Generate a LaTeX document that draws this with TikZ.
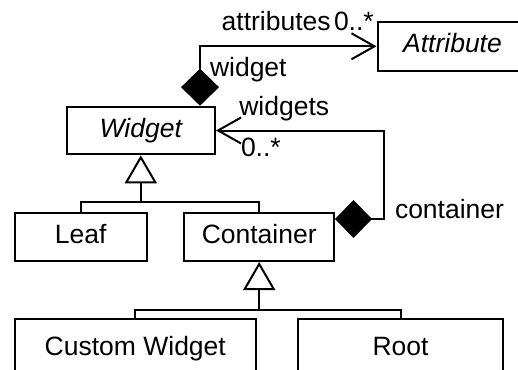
\documentclass[tikz,border=0pt]{standalone}
\usepackage{fontspec}
\setmainfont{Liberation Sans}
\usepackage{tikz}
\usetikzlibrary{arrows.meta}
\newcommand{\umlfont}{\fontsize{13.25pt}{16pt}\selectfont}

\begin{document}
\begin{tikzpicture}[x=0.5pt,y=-0.5pt,line width=1pt,
  cls/.style={draw,inner sep=0pt,font=\umlfont,text height=9.9pt,text depth=3.3pt,minimum height=24.2pt},
  abstractcls/.style={cls,font=\umlfont\itshape},
  lbl/.style={inner sep=0pt,anchor=base west,font=\umlfont},
  gen/.style={-{Triangle[open,length=14pt,width=16pt]}},
  comp/.style={{Diamond[length=18.5pt,width=19pt]}-{Straight Barb[length=11.5pt,width=13pt]}}]
\useasboundingbox (0,0) rectangle (518,369);
\clip (0,0) rectangle (518,369);

% Classes
\node[abstractcls,minimum width=74.2pt,minimum height=23.8pt] (widget) at (140.8,130.5) {Widget};
\node[abstractcls,minimum width=75pt,minimum height=24.6pt] (attr) at (452.5,46.3) {Attribute};
\node[cls,minimum width=66pt] (leaf) at (80.7,236.8) {Leaf};
\node[cls,minimum width=74.8pt] (container) at (259.2,236.8) {Container};
\node[cls,minimum width=120.7pt,minimum height=30pt] (custom) at (135.3,349.3) {Custom Widget};
\node[cls,minimum width=102.8pt,minimum height=30pt] (root) at (400.5,349.3) {Root};

% Generalizations
\coordinate (j1) at ([yshift=-23.35pt]widget.south);
\draw (leaf.north) |- (j1);
\draw (container.north) |- (j1);
\draw[gen] (j1) -- (widget.south);

\coordinate (j2) at ([yshift=-24.15pt]container.south);
\draw (custom.north) |- (j2);
\draw (root.north) |- (j2);
\draw[gen] (j2) -- (container.south);

% Compositions
\draw[comp] ([xshift=-8pt]widget.north east) |- (attr.west);
\draw[comp] ([yshift=8.9pt]container.east) -- ++(24.6pt,0) |- (widget.east);

% Role names and multiplicities
\node[lbl] (attrrole) at (220.7,30.7) {attributes};
\node[lbl] (attrmult) at (333,30.7) {0..*};
\node[lbl] (widgetrole) at (209,76.7) {widget};
\node[lbl] (widgetsrole) at (238.3,115) {widgets};
\node[lbl] (widgetsmult) at (240,156) {0..*};
\node[lbl] (containerrole) at (394,218) {container};
\end{tikzpicture}
\end{document}
